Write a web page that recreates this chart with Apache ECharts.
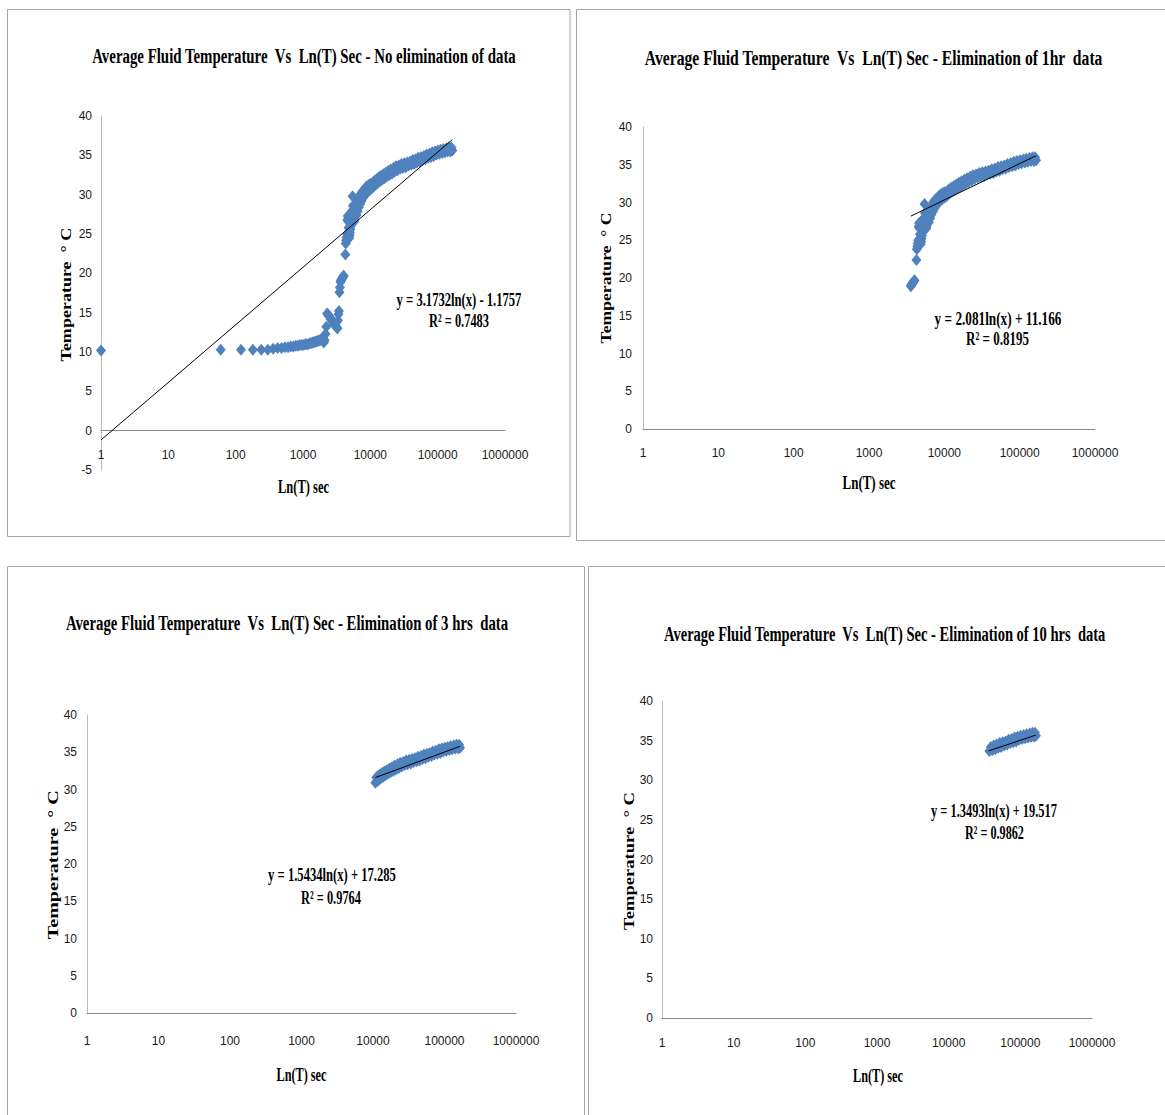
<!DOCTYPE html>
<html>
<head>
<meta charset="utf-8">
<script src="https://cdn.jsdelivr.net/npm/echarts@6.0.0/dist/echarts.min.js"></script>
<style>
html,body{margin:0;padding:0;background:#ffffff;}
#c{width:1165px;height:1115px;}
</style>
</head>
<body>
<div id="c"></div>
<script>
// ---------------- DATA ----------------
const timeSec = [
  1, 60, 120, 180, 240, 300, 360, 420, 480, 540, 600, 660, 720, 780, 840, 900, 960, 1020,
  1080, 1140, 1200, 1260, 1320, 1380, 1440, 1500, 1560, 1620, 1680, 1740, 1800, 1860, 1920, 1980,
  2040, 2100, 2160, 2220, 2280, 2340, 2400, 2460, 2520, 2580, 2640, 2700, 2760, 2820, 2880, 2940,
  3000, 3060, 3120, 3180, 3240, 3300, 3360, 3420, 3480, 3540,
  3600, 3660, 3720, 3780, 3840, 3900, 3960, 4020,
  4260, 4320, 4380, 4440, 4500, 4560, 4620, 4680, 4740, 4800, 4860, 4920, 4980, 5040, 5100, 5160,
  5220, 5280, 5340, 5400, 5460, 5520, 5580, 5640, 5700, 5760, 5820, 5880, 5940,
  6000, 6120, 6240, 6360, 6480, 6600, 6750, 6900, 7050, 7200, 7400, 7600, 7800, 8000, 8250, 8500,
  8750, 9000, 9300, 9600, 9900, 10200, 10500,
  10800, 11100, 11400, 11700, 12100, 12500, 12900, 13400, 13900, 14400, 15000, 15600, 16200, 16900,
  17600, 18400, 19200, 20000, 21000, 22000, 23000, 24000, 25200, 26400, 27700, 29000, 30400, 32000,
  33600, 35200, 36900, 38700, 40600, 42600, 44700, 46900, 49200, 51600, 54100, 56800, 59600, 62500,
  65600, 68800, 72200, 75700, 79400, 83300, 87400, 91700, 96200, 101000, 106000, 111000, 117000,
  122000, 128000, 135000, 141000, 148000, 155000, 160000, 165000
];
const tempC = [
  10.2, 10.3, 10.3, 10.3, 10.3, 10.3, 10.4, 10.5, 10.5, 10.6, 10.6, 10.7, 10.7, 10.8, 10.8, 10.9, 10.9, 10.9,
  11.0, 11.0, 11.0, 11.1, 11.1, 11.2, 11.2, 11.3, 11.3, 11.4, 11.4, 11.5, 11.5, 11.6, 11.7, 11.8,
  11.2, 11.5, 12.3, 13.2, 14.9, 14.8, 14.6, 14.5, 14.4, 14.2, 14.1, 14.0, 13.9, 13.7, 13.6, 13.5,
  13.4, 13.3, 13.2, 13.1, 13.0, 14.0, 14.8, 15.2, 17.6, 18.2,
  18.9, 19.1, 19.2, 19.3, 19.4, 19.5, 19.6, 19.7,
  22.4, 23.8, 24.2, 24.6, 25.0, 26.8, 27.3, 26.6, 25.8, 25.0, 24.5, 24.8, 25.2, 25.6, 26.0, 26.4,
  26.8, 27.2, 27.6, 28.0, 29.8, 28.6, 27.8, 27.2, 26.8, 26.6, 26.9, 27.3, 27.6,
  27.6, 28.5, 27.4, 29.0, 27.9, 29.4, 28.4, 29.8, 28.8, 30.1, 29.2, 30.4, 29.6, 30.6, 29.9, 30.9,
  30.2, 31.1, 30.4, 31.3, 30.6, 31.4, 30.8,
  30.9, 31.6, 31.1, 31.8, 31.3, 32.0, 31.5, 32.2, 31.7, 32.4, 31.9, 32.6, 32.1, 32.8,
  32.3, 33.0, 32.5, 33.2, 32.7, 33.4, 32.9, 33.6, 33.1, 33.7, 33.3, 33.9, 33.4, 34.0,
  33.5, 34.1, 33.7, 34.2, 33.8, 34.4, 33.9, 34.5, 34.1, 34.7, 34.2, 34.8, 34.4, 34.9,
  34.5, 35.1, 34.7, 35.2, 34.8, 35.4, 34.9, 35.5, 35.1, 35.6, 35.2, 35.7, 35.3,
  35.8, 35.4, 35.9, 35.5, 36.0, 35.5, 36.0, 35.6
];
const eliminationHours = [0, 1, 3, 10];
const panelTitles = [
  'Average Fluid Temperature  Vs  Ln(T) Sec - No elimination of data',
  'Average Fluid Temperature  Vs  Ln(T) Sec - Elimination of 1hr  data',
  'Average Fluid Temperature  Vs  Ln(T) Sec - Elimination of 3 hrs  data',
  'Average Fluid Temperature  Vs  Ln(T) Sec - Elimination of 10 hrs  data'
];
const xAxisTitle = 'Ln(T) sec';
const yAxisTitle = 'Temperature  \u00B0 C';
const xTickLabels = ['1', '10', '100', '1000', '10000', '100000', '1000000'];
const yMinValues = [-5, 0, 0, 0];
const yMaxValue = 40;
const yStep = 5;
const trendX = [[1, 165000], [3600, 165000], [10800, 165000], [36000, 165000]];
const trendY = [[-1.18, 37.0], [28.2, 36.2], [31.6, 35.8], [33.7, 35.7]];
const eqLines = ['y = 3.1732ln(x) - 1.1757', 'y = 2.081ln(x) + 11.166', 'y = 1.5434ln(x) + 17.285', 'y = 1.3493ln(x) + 19.517'];
const r2Lines = ['R\u00B2 = 0.7483', 'R\u00B2 = 0.8195', 'R\u00B2 = 0.9764', 'R\u00B2 = 0.9862'];

// ---------------- LAYOUT ----------------
const panels = [
  {grid: [101, 116, 404, 354], box: [7.5, 9.5, 562.5, 527], title: [304, 56, 424], xName: [303.5, 487, 51], yName: [66.5, 294.6, 134], eq: [459, 300, 125], r2: [459, 320, 60], xMargin: -21, yMargin: 9},
  {grid: [643, 127, 452, 302], box: [576.5, 9.5, 600, 531], title: [873.6, 57.4, 459], xName: [869, 483, 53], yName: [605.7, 278, 131], eq: [998, 319, 127], r2: [997.5, 339, 63], xMargin: 18, yMargin: 11},
  {grid: [87, 715, 429, 298], box: [7.5, 566.5, 577, 600], title: [287, 622.7, 443], xName: [301.5, 1075, 50], yName: [52.7, 864.8, 149], eq: [332, 874.3, 128], r2: [331, 897.3, 60], xMargin: 22, yMargin: 10},
  {grid: [662, 701, 430, 317], box: [588.5, 566.5, 600, 600], title: [884.7, 634.3, 442], xName: [878, 1076, 50], yName: [629, 861, 138], eq: [994, 810, 126], r2: [994.5, 832.6, 59], xMargin: 19, yMargin: 9}
];

const serifFamily = '"Liberation Serif", "Times New Roman", serif';
const tickFamily = '"Liberation Sans Narrow", "Liberation Sans", Arial, sans-serif';
const measureCtx = document.createElement('canvas').getContext('2d');
function measure(text, font) { measureCtx.font = font; return measureCtx.measureText(text).width; }
function fitText(text, font, cx, cy, targetW, extra) {
  const w = measure(text, font);
  return Object.assign({
    type: 'text', x: cx, y: cy, scaleX: targetW / w, z: 20,
    style: {text: text, font: font, fill: '#000', textAlign: 'center', textVerticalAlign: 'middle'}
  }, extra || {});
}

const grids = [], xAxes = [], yAxes = [], series = [], graphics = [];
panels.forEach((p, i) => {
  grids.push({left: p.grid[0], top: p.grid[1], width: p.grid[2], height: p.grid[3], containLabel: false});
  xAxes.push({
    type: 'log', logBase: 10, min: 1, max: 1000000, gridIndex: i,
    axisLine: {show: true, onZero: i === 0, lineStyle: {color: '#8a8a8a', width: 1}},
    axisTick: {show: false}, splitLine: {show: false},
    axisLabel: {margin: p.xMargin, fontSize: 12, fontFamily: tickFamily, color: '#1a1a1a',
      formatter: v => xTickLabels[Math.round(Math.log10(v))]}
  });
  yAxes.push({
    type: 'value', min: yMinValues[i], max: yMaxValue, interval: yStep, gridIndex: i,
    axisLine: {show: true, onZero: false, lineStyle: {color: '#bcbcbc', width: 1}},
    axisTick: {show: false}, splitLine: {show: false},
    axisLabel: {margin: p.yMargin, fontSize: 12, fontFamily: tickFamily, color: '#1a1a1a'}
  });
  const cutoff = eliminationHours[i] * 3600;
  const pts = [];
  timeSec.forEach((t, k) => { if (t >= cutoff) pts.push([t, tempC[k]]); });
  series.push({
    type: 'scatter', xAxisIndex: i, yAxisIndex: i, data: pts,
    symbol: 'diamond', symbolSize: [10, 12], itemStyle: {color: '#4F81BD', opacity: 1}, z: 2, silent: true
  });
  series.push({
    type: 'line', xAxisIndex: i, yAxisIndex: i,
    data: [[trendX[i][0], trendY[i][0]], [trendX[i][1], trendY[i][1]]],
    showSymbol: false, symbol: 'none', lineStyle: {color: '#000', width: 1}, z: 3, silent: true
  });
  graphics.push({type: 'rect', z: 0, silent: true,
    shape: {x: p.box[0], y: p.box[1], width: p.box[2], height: p.box[3]},
    style: {fill: 'none', stroke: '#a6a6a6', lineWidth: 1}});
  graphics.push(fitText(panelTitles[i], 'bold 21px ' + serifFamily, p.title[0], p.title[1], p.title[2]));
  graphics.push(fitText(xAxisTitle, 'bold 18px ' + serifFamily, p.xName[0], p.xName[1], p.xName[2]));
  graphics.push(fitText(yAxisTitle, 'bold 18px ' + serifFamily, p.yName[0], p.yName[1], p.yName[2], {rotation: Math.PI / 2, scaleY: 0.8}));
  graphics.push(fitText(eqLines[i], 'bold 19px ' + serifFamily, p.eq[0], p.eq[1], p.eq[2]));
  graphics.push(fitText(r2Lines[i], 'bold 19px ' + serifFamily, p.r2[0], p.r2[1], p.r2[2]));
});

const chart = echarts.init(document.getElementById('c'), null, {renderer: 'svg'});
chart.setOption({
  animation: false,
  backgroundColor: '#ffffff',
  grid: grids, xAxis: xAxes, yAxis: yAxes, series: series, graphic: graphics
});
</script>
</body>
</html>
